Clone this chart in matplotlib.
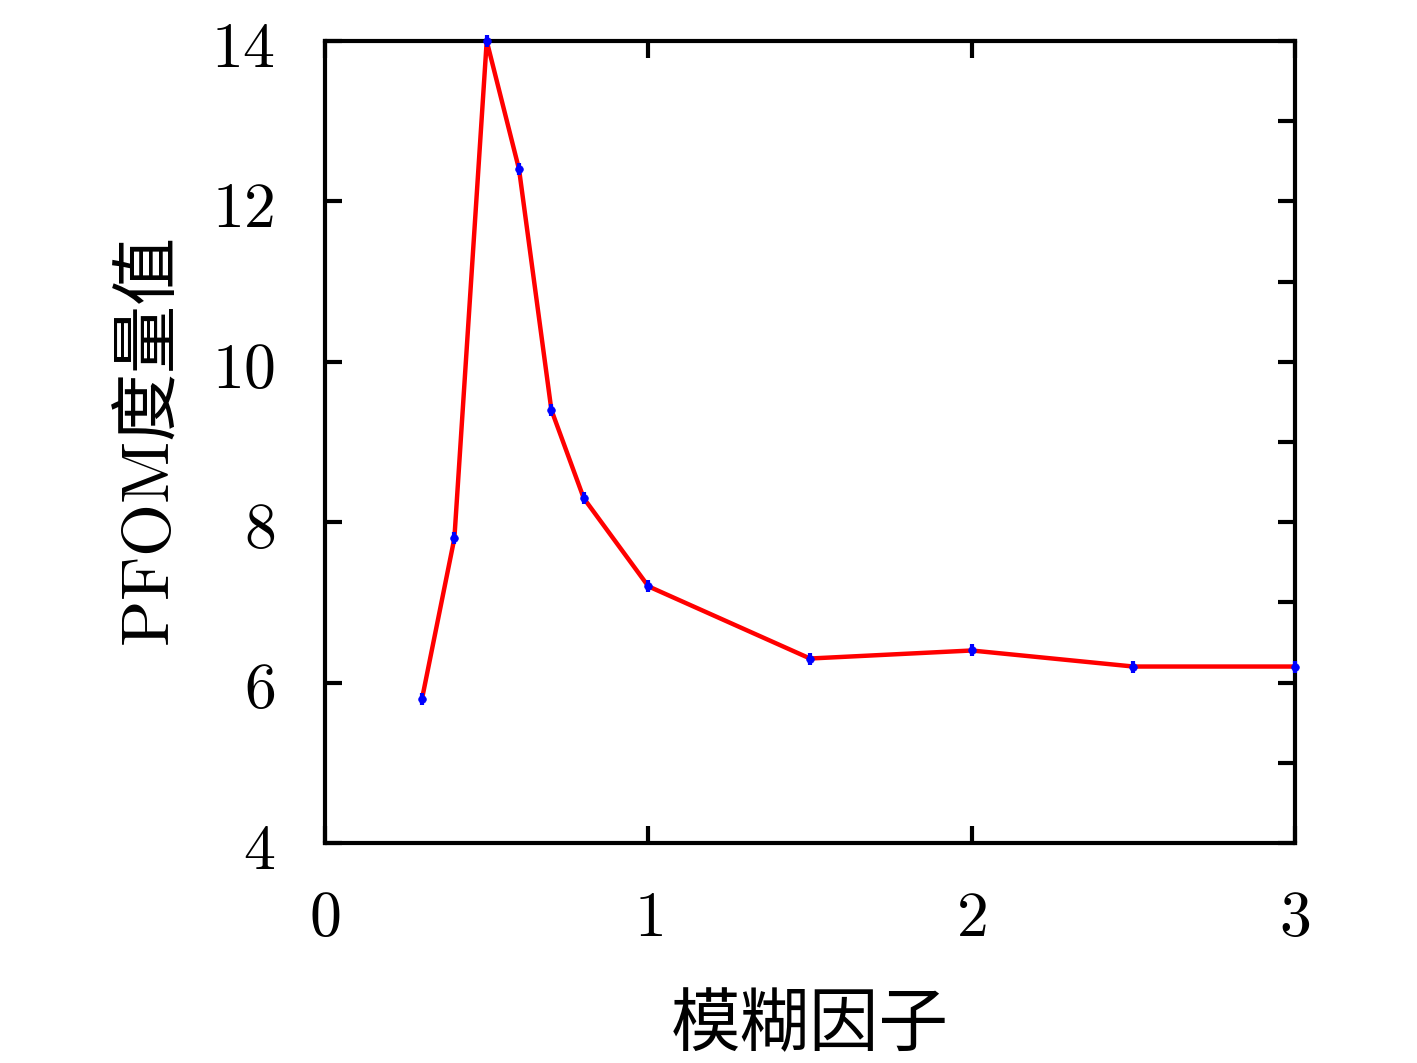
import matplotlib
matplotlib.use("Agg")
import matplotlib.pyplot as plt
from matplotlib.ticker import FuncFormatter, MultipleLocator

plt.rcParams['font.family'] = ['Noto Sans CJK SC', 'DejaVu Serif']
plt.rcParams['mathtext.fontset'] = 'cm'

# data
blur = [0.3, 0.4, 0.5, 0.6, 0.7, 0.8, 1.0, 1.5, 2.0, 2.5, 3.0]
pfom = [5.8, 7.8, 14.0, 12.4, 9.4, 8.3, 7.2, 6.3, 6.4, 6.2, 6.2]
xticks = [0, 1, 2, 3]
yticks = [4, 6, 8, 10, 12, 14]

fig = plt.figure(figsize=(14.17, 10.63), dpi=100)
ax = fig.add_axes([0.2294, 0.2070, 0.6845, 0.7544])

ax.plot(blur, pfom, color='red', lw=3.2, zorder=2)
# small blue error-bar-like marks
ax.plot(blur, pfom, ls='none', marker='o', ms=5.5, mfc='blue', mec='blue',
        markeredgewidth=0.5, zorder=3, clip_on=False)
ax.plot(blur, pfom, ls='none', marker='|', ms=9, mec='blue',
        markeredgewidth=3, zorder=3, clip_on=False)

ax.set_xlim(0, 3)
ax.set_ylim(4, 14)
ax.set_xticks(xticks)
ax.set_yticks(yticks)
ax.yaxis.set_minor_locator(MultipleLocator(1))

fmt = FuncFormatter(lambda v, p: r'$%d$' % v)
ax.xaxis.set_major_formatter(fmt)
ax.yaxis.set_major_formatter(fmt)

ax.tick_params(which='both', direction='in', top=True, right=True,
               width=3, labelsize=46)
ax.tick_params(which='major', length=12)
ax.tick_params(axis='x', pad=30)
ax.tick_params(axis='y', pad=36)
ax.tick_params(axis='y', which='minor', left=False, right=True, length=12)

for s in ax.spines.values():
    s.set_linewidth(3)

ax.set_xlabel('模糊因子', fontsize=50, labelpad=28)
ax.set_ylabel(r'$\mathrm{PFOM}$度量值', fontsize=49, labelpad=18)

fig.savefig('out.png', dpi=100)
